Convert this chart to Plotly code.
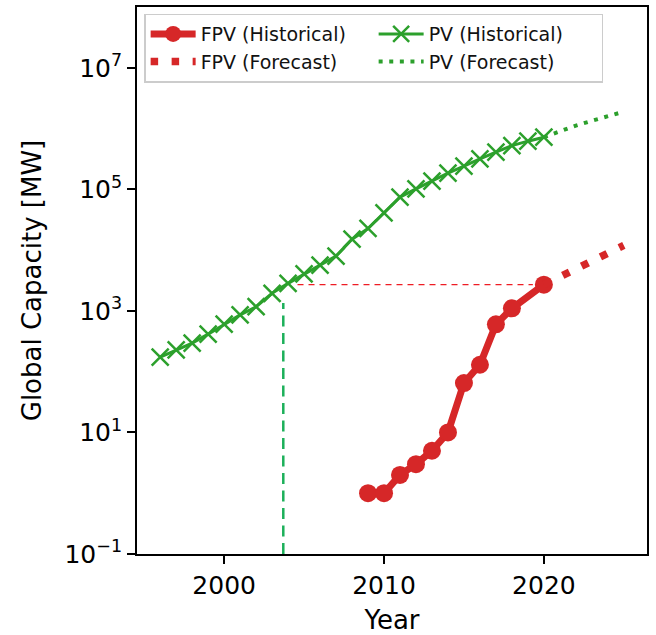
import plotly.graph_objects as go

# ---- data ----
fpv_hist_years = [2009, 2010, 2011, 2012, 2013, 2014, 2015, 2016, 2017, 2018, 2020]
fpv_hist_mw = [1, 1, 2, 3, 5, 10, 65, 130, 600, 1100, 2700]

fpv_fore_years = [2020, 2021, 2022, 2023, 2024, 2025]
fpv_fore_mw = [2700, 3600, 4900, 6600, 8900, 12000]

pv_hist_years = list(range(1996, 2021))
pv_hist_mw = [173, 229, 295, 414, 605, 860, 1170, 1950, 2840, 4060, 5660, 7960,
              15100, 22700, 41000, 74500, 102000, 137000, 185000, 240000,
              318000, 408000, 525000, 620000, 720000]

pv_fore_years = [2020, 2021, 2022, 2023, 2024, 2025]
pv_fore_mw = [720000, 910000, 1120000, 1340000, 1620000, 1900000]

# reference lines
cross_year = 2003.7
cross_top_mw = 1350
hline_x = [2004.59, 2019.31]
hline_mw = fpv_hist_mw[-1]

ytick_vals = [0.1, 10, 1000, 1e5, 1e7]
ytick_text = ["10<sup>−1</sup>", "10<sup>1</sup>", "10<sup>3</sup>", "10<sup>5</sup>", "10<sup>7</sup>"]
xtick_vals = [2000, 2010, 2020]

RED = "#d62728"
GREEN = "#2ca02c"

fig = go.Figure()

fig.add_trace(go.Scatter(
    x=[cross_year, cross_year], y=[0.1, cross_top_mw], mode="lines",
    line=dict(color="#1cb05a", width=2.5, dash="11px,6.5px"), showlegend=False, hoverinfo="skip"))
fig.add_trace(go.Scatter(
    x=hline_x, y=[hline_mw, hline_mw], mode="lines",
    line=dict(color="#ee1c24", width=1.3, dash="6px,5px"), showlegend=False, hoverinfo="skip"))

fig.add_trace(go.Scatter(
    x=fpv_hist_years, y=fpv_hist_mw, mode="lines+markers", name="FPV (Historical)",
    line=dict(color=RED, width=7), marker=dict(symbol="circle", size=18, color=RED),
    legendrank=1))
fig.add_trace(go.Scatter(
    x=fpv_fore_years, y=fpv_fore_mw, mode="lines", name="FPV (Forecast)",
    line=dict(color=RED, width=7.5, dash="7.5px,13.5px"), legendrank=3))
fig.add_trace(go.Scatter(
    x=pv_hist_years, y=pv_hist_mw, mode="lines+markers", name="PV (Historical)",
    line=dict(color=GREEN, width=3),
    marker=dict(symbol="x-thin", size=17, color=GREEN, line=dict(color=GREEN, width=2.5)),
    legendrank=2))
fig.add_trace(go.Scatter(
    x=pv_fore_years, y=pv_fore_mw, mode="lines", name="PV (Forecast)",
    line=dict(color=GREEN, width=4, dash="4px,6.6px"), legendrank=4))

FONT = "DejaVu Sans"
fig.update_layout(
    width=656, height=635,
    margin=dict(l=137, r=9, t=5, b=79),
    paper_bgcolor="white", plot_bgcolor="white",
    font=dict(family=FONT, color="black", size=26),
    showlegend=True,
    legend=dict(
        orientation="h", x=0.014, y=0.988, xanchor="left", yanchor="top",
        font=dict(family=FONT, size=19, color="#111111"),
        bgcolor="rgba(255,255,255,0.8)", bordercolor="#cccccc", borderwidth=1.5,
        itemwidth=45, entrywidth=168, traceorder="normal",
    ),
    xaxis=dict(
        range=[1994.55, 2026.45], tickvals=xtick_vals, ticks="outside", ticklen=8,
        tickwidth=1.5, tickcolor="black", showline=True, linecolor="black", linewidth=1.8,
        mirror=True, showgrid=False, zeroline=False,
        tickfont=dict(family=FONT, size=25),
        title=dict(text="Year", font=dict(family=FONT, size=26), standoff=12),
    ),
    yaxis=dict(
        type="log", range=[-1, 8], tickvals=ytick_vals, ticktext=ytick_text,
        ticks="outside", ticklen=8, tickwidth=1.5, tickcolor="black",
        showline=True, linecolor="black", linewidth=1.8, mirror=True,
        showgrid=False, zeroline=False,
        tickfont=dict(family=FONT, size=25),
        title=dict(text="Global Capacity [MW]", font=dict(family=FONT, size=26), standoff=15),
    ),
)

fig.write_html("out.html")
